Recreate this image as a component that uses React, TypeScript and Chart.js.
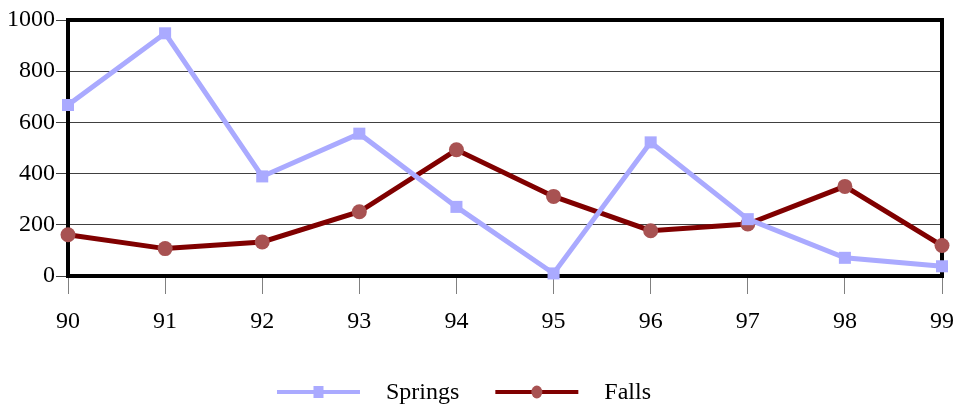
import React, { useEffect, useRef } from "react";
import { Chart, registerables } from "chart.js";

Chart.register(...registerables);

const categories = ["90", "91", "92", "93", "94", "95", "96", "97", "98", "99"];
const springs = [668, 948, 389, 556, 270, 10, 522, 222, 71, 38];
const falls = [161, 107, 133, 251, 493, 311, 177, 203, 350, 119];
const yTicks = [0, 200, 400, 600, 800, 1000];

const FONT = "'Liberation Serif', 'Times New Roman', serif";

const framePlugin = {
  id: "frame",
  beforeDatasetsDraw(chart: any) {
    const { ctx, chartArea } = chart;
    ctx.save();
    ctx.strokeStyle = "#000";
    ctx.lineWidth = 4;
    ctx.strokeRect(chartArea.left, chartArea.top, chartArea.right - chartArea.left, chartArea.bottom - chartArea.top);
    ctx.restore();
  },
};

const legendPlugin = {
  id: "customLegend",
  afterDraw(chart: any) {
    const { ctx, width, height } = chart;
    ctx.save();
    ctx.font = `24px ${FONT}`;
    const lineLen = 83;
    const textGap = 26;
    const itemGap = 36;
    const items = chart.data.datasets.map((ds: any) => ({
      ds,
      w: lineLen + textGap + ctx.measureText(ds.label).width,
    }));
    const total = items.reduce((s: number, it: any) => s + it.w, 0) + itemGap * (items.length - 1);
    let x = (width - total) / 2 - 15;
    const y = height - 15;
    items.forEach((it: any) => {
      const ds = it.ds;
      ctx.strokeStyle = ds.borderColor;
      ctx.lineWidth = 4;
      ctx.beginPath();
      ctx.moveTo(x, y);
      ctx.lineTo(x + lineLen, y);
      ctx.stroke();
      ctx.fillStyle = ds.pointBackgroundColor;
      const cx = x + lineLen / 2;
      if (ds.pointStyle === "rect") {
        ctx.fillRect(cx - 5, y - 6, 10, 12);
      } else {
        ctx.beginPath();
        ctx.ellipse(cx, y, 5.5, 6.5, 0, 0, Math.PI * 2);
        ctx.fill();
      }
      ctx.fillStyle = "#000";
      ctx.textBaseline = "middle";
      ctx.textAlign = "left";
      ctx.fillText(ds.label, x + lineLen + textGap, y + 1);
      x += it.w + itemGap;
    });
    ctx.restore();
  },
};

export default function App() {
  const ref = useRef<HTMLCanvasElement>(null);
  useEffect(() => {
    let chart: any = null;
    let cancelled = false;
    const make = () => {
      if (cancelled || !ref.current) return;
      chart = new Chart(ref.current, {
        type: "line",
        data: {
          labels: categories,
          datasets: [
            {
              label: "Springs",
              data: springs,
              borderColor: "#AAAAFF",
              backgroundColor: "#AAAAFF",
              pointBackgroundColor: "#AAAAFF",
              pointBorderWidth: 0,
              pointStyle: "rect",
              pointRadius: 8.5,
              borderWidth: 5,
              tension: 0,
              clip: false as any,
            },
            {
              label: "Falls",
              data: falls,
              borderColor: "#800000",
              backgroundColor: "#A85252",
              pointBackgroundColor: "#A85252",
              pointBorderWidth: 0,
              pointStyle: "circle",
              pointRadius: 7.5,
              borderWidth: 5,
              tension: 0,
              clip: false as any,
            },
          ],
        },
        options: {
          animation: false,
          responsive: true,
          maintainAspectRatio: false,
          layout: { padding: { top: 20, right: 16, left: 0, bottom: 0 } },
          plugins: { legend: { display: false }, tooltip: { enabled: false } },
          scales: {
            x: {
              offset: false,
              grid: { drawOnChartArea: false, drawTicks: true, tickLength: 18, color: "#808080", lineWidth: 1 },
              border: { display: false },
              ticks: { color: "#000", font: { family: FONT, size: 24 }, padding: 13, maxRotation: 0, autoSkip: false },
              afterFit(scale: any) {
                scale.height = 131;
                scale.paddingLeft = 0;
                scale.paddingRight = 0;
              },
            },
            y: {
              min: 0,
              max: 1000,
              afterBuildTicks(scale: any) {
                scale.ticks = yTicks.map((v) => ({ value: v }));
              },
              grid: { drawOnChartArea: true, drawTicks: true, tickLength: 12, color: "#404040", lineWidth: 1 },
              border: { display: false },
              ticks: {
                color: "#000",
                font: { family: FONT, size: 24 },
                padding: 1,
                callback: (v: any) => String(v),
              },
              afterFit(scale: any) {
                scale.width = 68;
                scale.paddingTop = 0;
                scale.paddingBottom = 0;
              },
            },
          },
        },
        plugins: [framePlugin, legendPlugin],
      });
    };
    const fonts: any = (document as any).fonts;
    if (fonts && fonts.load) {
      fonts.load("24px 'Liberation Serif'").then(make, make);
    } else {
      make();
    }
    return () => {
      cancelled = true;
      if (chart) chart.destroy();
    };
  }, []);
  return (
    <div style={{ position: "absolute", left: 0, top: 0, width: 958, height: 407 }}>
      <canvas ref={ref} />
    </div>
  );
}
